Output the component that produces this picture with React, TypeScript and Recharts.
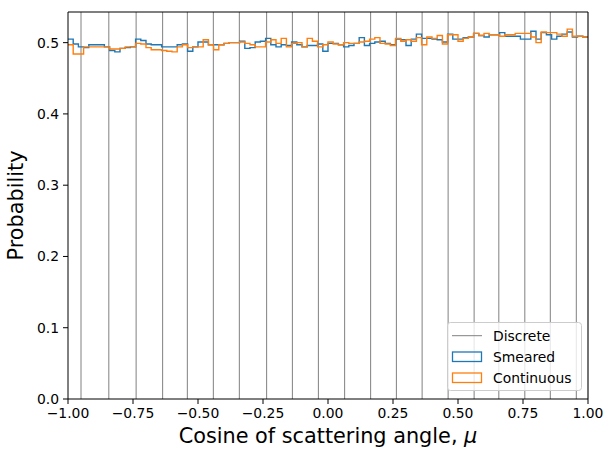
import { ComposedChart, Line, XAxis, YAxis, ReferenceLine, Legend } from 'recharts';

// 100 bins of width 0.02 on [-1, 1]
const BIN_LEFT = -1;
const BIN_WIDTH = 0.02;

const SMEARED = [
  0.505, 0.498, 0.494, 0.493, 0.497, 0.497, 0.497, 0.494, 0.489, 0.487,
  0.492, 0.493, 0.494, 0.505, 0.503, 0.498, 0.497, 0.497, 0.494, 0.494,
  0.494, 0.497, 0.498, 0.488, 0.494, 0.501, 0.501, 0.497, 0.497, 0.497,
  0.499, 0.500, 0.500, 0.502, 0.492, 0.493, 0.501, 0.502, 0.506, 0.497,
  0.494, 0.497, 0.496, 0.501, 0.497, 0.494, 0.496, 0.496, 0.498, 0.488,
  0.499, 0.499, 0.497, 0.494, 0.496, 0.499, 0.507, 0.496, 0.499, 0.501,
  0.502, 0.499, 0.497, 0.505, 0.504, 0.496, 0.505, 0.512, 0.506, 0.506,
  0.505, 0.504, 0.501, 0.512, 0.505, 0.505, 0.507, 0.508, 0.513, 0.510,
  0.508, 0.511, 0.511, 0.514, 0.509, 0.509, 0.509, 0.505, 0.505, 0.516,
  0.505, 0.514, 0.511, 0.505, 0.509, 0.512, 0.515, 0.508, 0.509, 0.508,
];

const CONTINUOUS = [
  0.497, 0.484, 0.484, 0.494, 0.494, 0.494, 0.494, 0.494, 0.491, 0.491,
  0.492, 0.494, 0.494, 0.499, 0.498, 0.493, 0.490, 0.490, 0.489, 0.488,
  0.487, 0.494, 0.497, 0.493, 0.494, 0.494, 0.504, 0.497, 0.490, 0.497,
  0.499, 0.500, 0.500, 0.501, 0.499, 0.497, 0.494, 0.494, 0.501, 0.504,
  0.499, 0.506, 0.494, 0.499, 0.500, 0.494, 0.506, 0.502, 0.494, 0.497,
  0.501, 0.498, 0.497, 0.500, 0.499, 0.499, 0.501, 0.502, 0.505, 0.507,
  0.499, 0.498, 0.496, 0.506, 0.502, 0.504, 0.502, 0.507, 0.497, 0.508,
  0.506, 0.510, 0.498, 0.511, 0.511, 0.502, 0.506, 0.508, 0.513, 0.510,
  0.513, 0.511, 0.511, 0.509, 0.511, 0.511, 0.513, 0.513, 0.513, 0.508,
  0.500, 0.515, 0.514, 0.514, 0.512, 0.509, 0.519, 0.509, 0.509, 0.508,
];

const DISCRETE = [
  -0.95, -0.843, -0.738, -0.636, -0.541, -0.441, -0.341, -0.236, -0.137, -0.037,
  0.064, 0.164, 0.263, 0.362, 0.462, 0.562, 0.657, 0.757, 0.855, 0.955,
];

const X_TICKS = [-1, -0.75, -0.5, -0.25, 0, 0.25, 0.5, 0.75, 1];
const Y_TICKS = [0, 0.1, 0.2, 0.3, 0.4, 0.5];
const Y_MAX = 0.543;

const BLUE = '#1f77b4';
const ORANGE = '#ff7f0e';
const FONT = 'DejaVu Sans, sans-serif';
const TICK_FONT = 13.9;

// step outline: one point per bin edge, last edge repeats last bin
const data = Array.from({ length: SMEARED.length + 1 }, (_, i) => {
  const k = Math.min(i, SMEARED.length - 1);
  return {
    x: BIN_LEFT + i * BIN_WIDTH,
    smeared: SMEARED[k],
    continuous: CONTINUOUS[k],
  };
});

const fmtX = (v: number) => (v < 0 ? '\u2212' : '') + Math.abs(v).toFixed(2);
const fmtY = (v: number) => v.toFixed(1);

function LegendBox() {
  return (
    <svg width={136} height={70} style={{ display: 'block' }}>
      <rect x={0.5} y={0.5} width={134} height={68} rx={3} fill="#fff" fillOpacity={0.8} stroke="#cccccc" />
      <line x1={5} x2={35} y1={13.7} y2={13.7} stroke="#808080" strokeWidth={1} />
      <text x={46} y={18.6} fontSize={TICK_FONT} fontFamily={FONT} fill="#000">Discrete</text>
      <rect x={5.5} y={30} width={29} height={9.5} fill="none" stroke={BLUE} strokeWidth={1.3} />
      <text x={46} y={39.6} fontSize={TICK_FONT} fontFamily={FONT} fill="#000">Smeared</text>
      <rect x={5.5} y={51} width={29} height={9.5} fill="none" stroke={ORANGE} strokeWidth={1.3} />
      <text x={46} y={60.6} fontSize={TICK_FONT} fontFamily={FONT} fill="#000">Continuous</text>
    </svg>
  );
}

export default function App() {
  return (
    <div style={{ position: 'absolute', left: 0, top: 0, width: 606, height: 450, background: '#fff' }}>
      <ComposedChart
        width={606}
        height={450}
        data={data}
        margin={{ top: 12, right: 18, left: 0, bottom: 0 }}
        style={{ fontFamily: FONT }}
      >
        <XAxis
          dataKey="x"
          type="number"
          domain={[-1, 1]}
          ticks={X_TICKS}
          tickFormatter={fmtX}
          allowDataOverflow
          height={51}
          tickSize={5}
          tickMargin={4}
          stroke="#000"
          tick={{ fill: '#000', fontSize: TICK_FONT, fontFamily: FONT }}
          label={{
            content: () => (
              <text x={328} y={443} textAnchor="middle" fontSize={20.8} fontFamily={FONT} fill="#000">
                Cosine of scattering angle, <tspan fontStyle="italic">μ</tspan>
              </text>
            ),
          }}
        />
        <YAxis
          type="number"
          domain={[0, Y_MAX]}
          ticks={Y_TICKS}
          tickFormatter={fmtY}
          allowDataOverflow
          width={68}
          tickSize={5}
          tickMargin={4}
          stroke="#000"
          tick={{ fill: '#000', fontSize: TICK_FONT, fontFamily: FONT }}
          label={{
            content: () => (
              <text
                x={23}
                y={205.5}
                transform="rotate(-90 23 205.5)"
                textAnchor="middle"
                fontSize={20.8}
                fontFamily={FONT}
                fill="#000"
              >
                Probability
              </text>
            ),
          }}
        />
        {DISCRETE.map((v) => (
          <ReferenceLine key={v} x={v} stroke="#808080" strokeWidth={1} />
        ))}
        <Line
          type="stepAfter"
          dataKey="smeared"
          stroke={BLUE}
          strokeWidth={1.4}
          dot={false}
          isAnimationActive={false}
        />
        <Line
          type="stepAfter"
          dataKey="continuous"
          stroke={ORANGE}
          strokeWidth={1.4}
          dot={false}
          isAnimationActive={false}
        />
        <ReferenceLine y={Y_MAX} stroke="#000" strokeWidth={1.1} />
        <ReferenceLine x={1} stroke="#000" strokeWidth={1.1} />
        <Legend
          layout="vertical"
          align="center"
          verticalAlign="middle"
          content={() => <LegendBox />}
          wrapperStyle={{ position: 'absolute', left: 447, top: 322, width: 136, height: 70, margin: 0 }}
        />
      </ComposedChart>
    </div>
  );
}
